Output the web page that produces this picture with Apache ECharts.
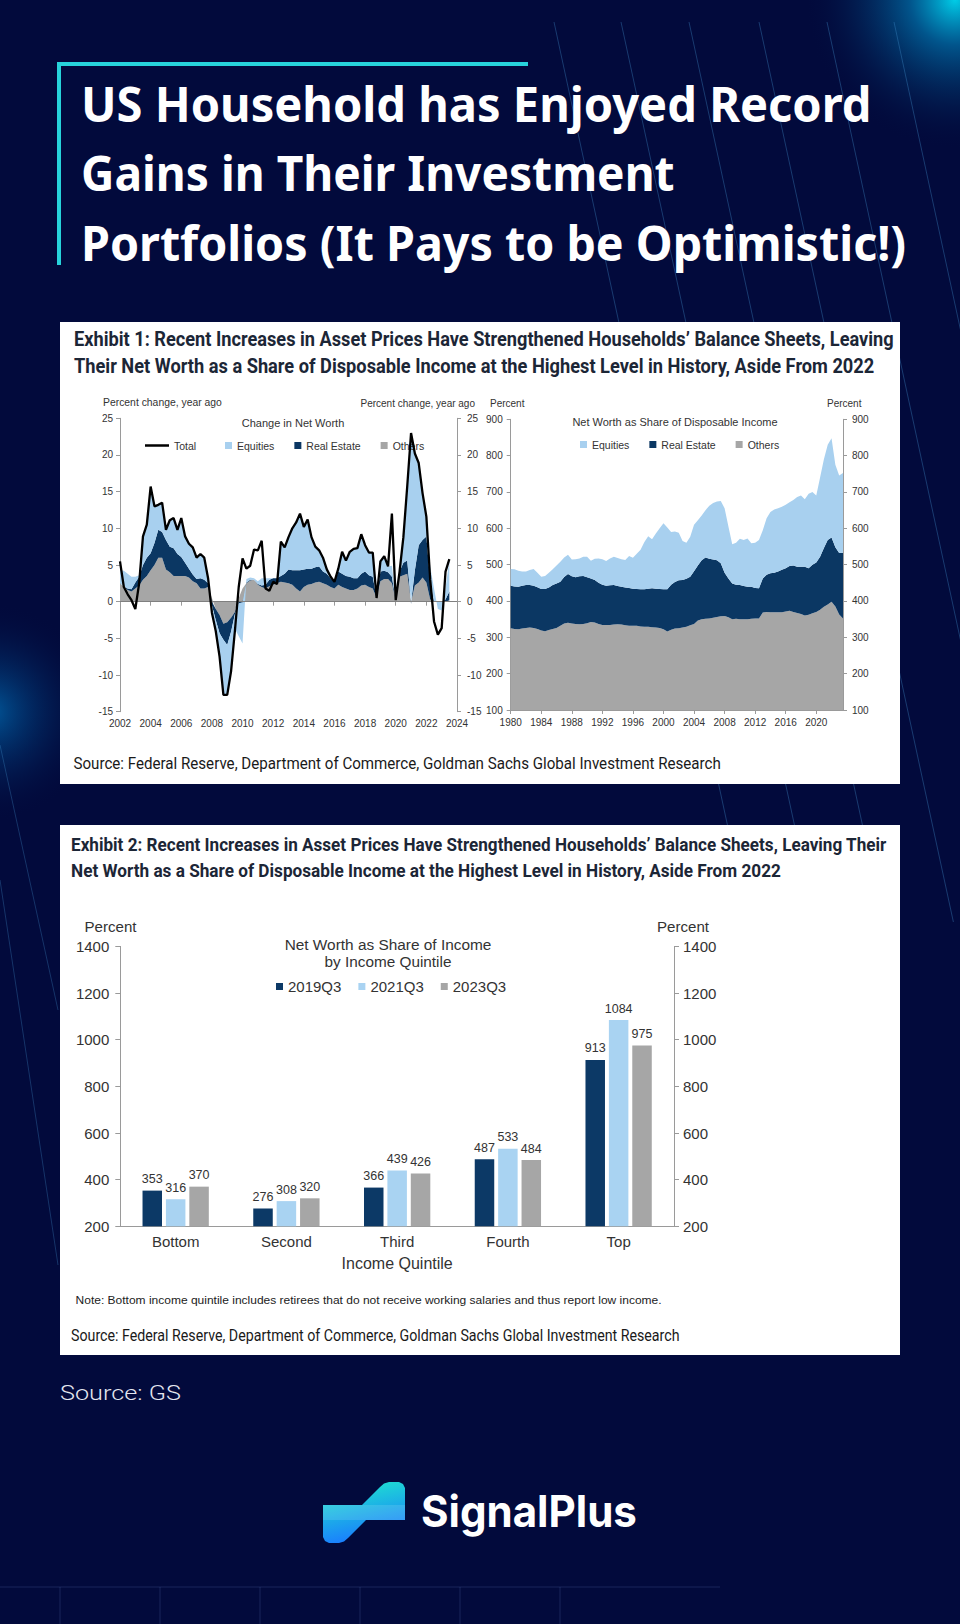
<!DOCTYPE html>
<html><head><meta charset="utf-8">
<script src="https://cdn.jsdelivr.net/npm/echarts@6/dist/echarts.min.js"></script>
<style>html,body{margin:0;padding:0;background:#020a3c;}#c{width:960px;height:1624px;}</style>
</head><body><div id="c"></div>
<script>
// ---------------- DATA ----------------
// Exhibit 1 (left): change in net worth, % y/y, quarterly 2002Q1..2023Q3
const cnwTotal = [5.5,2.0,1.0,0.2, -1.0,2.5,8.9,10.5, 15.7,13.0,13.2,13.5, 9.8,11.1,11.4,9.8, 11.4,8.9,7.9,7.4, 6.0,6.5,6.0,3.2,
  -1.5,-4.0,-7.5,-12.7, -12.7,-9.5,-4.0,2.0, 5.9,4.5,4.9,7.1, 7.0,8.3,1.8,1.5, 2.7,2.4,8.2,7.4, 8.8,10.0,10.8,12.0,
  10.2,11.2,8.8,7.5, 7.0,6.0,4.4,3.4, 2.7,4.5,6.8,5.6, 6.8,7.2,7.3,9.2, 7.7,6.7,6.7,0.5, 5.5,6.2,4.8,12.0,
  0.2,4.1,8.8,15.7, 23.0,20.2,18.9,14.8, 11.6,3.0,-2.7,-4.5, -3.6,4.1,5.8];
const cnwOthers = [2.5,2.0,1.6,1.4, 1.8,2.2,3.0,3.5, 4.3,5.0,6.0,6.0, 4.4,4.0,3.5,3.5, 3.5,3.5,3.3,2.8, 2.5,1.8,1.8,2.0,
  0.5,-1.0,-1.8,-3.0, -2.8,-2.2,-1.4,0.5, 1.8,2.5,2.9,3.0, 2.3,2.0,1.8,2.1, 2.3,2.5,2.7,2.6, 2.5,2.3,1.8,1.4,
  2.0,2.3,2.4,2.6, 2.7,2.5,2.3,2.0, 1.8,2.3,2.0,1.8, 1.6,1.6,1.8,2.2, 2.3,2.0,1.8,0.5, 2.8,3.1,3.1,2.5,
  0.2,3.4,3.6,3.8, 0.0,2.2,2.6,3.3, 2.6,0.3,0.0,0.0, 0.0,0.0,0.2];
const cnwRealEstate = [0.0,0.0,0.2,0.3, 0.8,1.2,2.0,2.5, 2.3,3.0,3.8,3.5, 4.0,3.5,3.8,3.0, 2.6,1.8,1.2,0.9, 0.6,1.4,1.2,0.5,
  -0.5,-1.5,-2.5,-2.2, -3.1,-1.9,-0.3,-0.2, -0.1,0.1,0.1,0.0, 0.1,0.2,0.5,0.9, 0.9,0.7,0.8,1.2, 1.9,2.0,2.5,2.9,
  2.4,2.2,2.1,2.1, 2.1,1.6,1.5,1.2, 0.9,1.8,1.8,1.7, 1.8,1.6,1.4,1.6, 1.8,1.6,1.6,0.0, 1.3,1.1,0.9,0.9,
  0.0,0.7,1.7,1.8, -0.3,2.1,5.1,5.1, 6.3,2.5,0.0,0.0, 0.0,0.3,1.2];
const cnwEquities = [1.8,2.2,2.0,1.7, 0.8,0.2,3.9,4.5, 9.0,5.0,3.4,4.0, 1.4,3.6,4.1,3.3, 5.3,3.6,3.4,3.7, 2.9,3.3,3.0,0.7,
  -1.5,-1.5,-3.2,-7.5, -6.8,-5.4,-2.0,-4.5, -5.6,0.5,0.3,0.2, 0.4,1.0,0.9,0.2, 0.0,0.0,4.7,3.6, 4.4,5.7,6.5,7.7,
  5.8,6.7,4.3,2.8, 2.2,1.9,0.6,0.2, 0.0,0.4,3.0,2.1, 3.4,4.0,4.1,5.4, 3.6,3.1,3.3,0.0, 1.4,2.0,0.8,1.5,
  0.0,0.0,3.5,10.1, 23.0,15.9,11.2,6.4, 2.3,2.0,1.8,-1.0, -1.2,1.5,4.3];

// Exhibit 1 (right): net worth as share of disposable income, %, half-yearly 1980H1..2023H2
const nwOthers = [325,323, 322,324, 326,327, 326,323, 319,317, 320,323, 326,332, 338,340, 338,337, 336,337,
  339,342, 341,337, 334,334, 334,335, 336,335, 333,332, 332,332, 330,329, 329,328, 327,326,
  322,316, 321,324, 325,327, 329,333, 337,346, 350,351, 352,354, 356,358, 359,355, 350,351,
  350,350, 350,351, 352,352, 368,370, 369,369, 369,369, 371,373, 370,367, 364,360, 362,366,
  370,376, 384,390, 398,385, 363,352];
const nwRealEstate = [117,117, 117,118, 118,117, 116,115, 114,116, 117,121, 122,121, 128,134, 130,128, 132,132,
  126,120, 117,113, 111,108, 109,109, 105,104, 104,104, 102,101, 102,103, 105,107, 107,107,
  110,116, 124,128, 132,131, 132,134, 145,152, 162,169, 164,160, 156,146, 119,107, 98,94,
  94,91, 89,88, 84,83, 94,102, 107,109, 112,117, 119,123, 128,127, 130,134, 128,134,
  136,146, 162,178, 177,163, 169,181];
const nwEquities = [46,47, 44,39, 37,41, 46,40, 34,36, 41,43, 50,55, 54,53, 46,50, 49,53,
  57,49, 58,67, 70,68, 74,78, 77,76, 76,88, 85,97, 109,130, 144,135, 152,167,
  182,170, 145,139, 131,107, 99,110, 128,124, 123,130, 146,156, 162,171, 177,143, 108,115,
  127,127, 133,120, 124,133, 133,156, 169,174, 174,173, 175,176, 180,192, 196,186, 205,200,
  184,218, 244,262, 273,227, 213,219];

// Exhibit 2: net worth as share of income by income quintile
const quintiles = ['Bottom','Second','Third','Fourth','Top'];
const nw2019Q3 = [353,276,366,487,913];
const nw2021Q3 = [316,308,439,533,1084];
const nw2023Q3 = [370,320,426,484,975];

// axis categories
const qCats = [];
for (let y = 2002; y <= 2024; y++) for (let q = 1; q <= 4; q++) { if (y === 2024 && q > 1) break; qCats.push(y + 'Q' + q); }
const hCats = [];
for (let y = 1980; y <= 2023; y++) { hCats.push(y + 'H1'); hCats.push(y + 'H2'); }

// ---------------- STYLE ----------------
const C_DARK = '#0b3763', C_LIGHT = '#a8d0ef', C_GRAY = '#a6a6a6';
const B_DARK = '#0c3966', B_LIGHT = '#a9d3f2', B_GRAY = '#a6a6a6';
const ARIAL = "'Liberation Sans', Arial, sans-serif";
const NARROW = "'Liberation Sans Narrow', 'Roboto', sans-serif";
const AX = '#9a9a9a';

const mctx = document.createElement('canvas').getContext('2d');
function txt(s, x, y, size, family, weight, color, targetW, align) {
  let sx = 1;
  if (targetW) { mctx.font = weight + ' ' + size + 'px ' + family; sx = targetW / mctx.measureText(s).width; }
  return { type: 'text', x: x, y: y, scaleX: sx, z: 5, silent: true,
    style: { text: s, fontSize: size, fontFamily: family, fontWeight: weight, fill: color, align: align || 'left', verticalAlign: 'middle' } };
}

const G = [];
G.push({ type: 'rect', silent: true, z: -20, shape: { x: 0, y: 0, width: 960, height: 1624 }, style: { fill: '#020a3c' } });
G.push({ type: 'circle', silent: true, z: -19, shape: { cx: 955, cy: 0, r: 150 },
  style: { fill: { type: 'radial', x: 0.5, y: 0.5, r: 0.5, colorStops: [
    { offset: 0, color: 'rgba(0,215,240,0.95)' }, { offset: 0.3, color: 'rgba(0,160,220,0.5)' }, { offset: 1, color: 'rgba(2,10,60,0)' }] } } });
G.push({ type: 'circle', silent: true, z: -19, shape: { cx: -10, cy: 712, r: 110 },
  style: { fill: { type: 'radial', x: 0.5, y: 0.5, r: 0.5, colorStops: [
    { offset: 0, color: 'rgba(0,150,230,0.55)' }, { offset: 1, color: 'rgba(2,10,60,0)' }] } } });
[554, 621, 689, 759, 827, 894].forEach(function (x0) {
  G.push({ type: 'line', silent: true, z: -18, shape: { x1: x0, y1: 22, x2: x0 + 0.216 * 900, y2: 922 }, style: { stroke: 'rgba(70,150,210,0.35)', lineWidth: 1 } });
});
G.push({ type: 'line', silent: true, z: -18, shape: { x1: 0, y1: 745, x2: 58, y2: 1010 }, style: { stroke: 'rgba(70,150,210,0.3)', lineWidth: 1 } });
G.push({ type: 'line', silent: true, z: -18, shape: { x1: 0, y1: 880, x2: 58, y2: 1265 }, style: { stroke: 'rgba(70,150,210,0.3)', lineWidth: 1 } });
G.push({ type: 'line', silent: true, z: -18, shape: { x1: 0, y1: 1587, x2: 720, y2: 1587 }, style: { stroke: 'rgba(70,90,150,0.35)', lineWidth: 1 } });
[60, 160, 260, 360, 460, 560].forEach(function (x) {
  G.push({ type: 'line', silent: true, z: -18, shape: { x1: x, y1: 1587, x2: x, y2: 1624 }, style: { stroke: 'rgba(70,90,150,0.35)', lineWidth: 1 } });
});
// teal bracket
G.push({ type: 'rect', silent: true, z: -10, shape: { x: 57, y: 62, width: 471, height: 4 }, style: { fill: '#27d3db' } });
G.push({ type: 'rect', silent: true, z: -10, shape: { x: 57, y: 62, width: 4, height: 203 }, style: { fill: '#27d3db' } });
// headline
const HF = "'Noto Sans', 'Open Sans', sans-serif";
G.push(txt('US Household has Enjoyed Record', 81, 103, 48, HF, 'bold', '#ffffff', 791));
G.push(txt('Gains in Their Investment', 81, 173, 48, HF, 'bold', '#ffffff', 594));
G.push(txt('Portfolios (It Pays to be Optimistic!)', 81, 242, 48, HF, 'bold', '#ffffff', 825));
// white panels
G.push({ type: 'rect', silent: true, z: -10, shape: { x: 60, y: 322, width: 840, height: 462 }, style: { fill: '#ffffff' } });
G.push({ type: 'rect', silent: true, z: -10, shape: { x: 60, y: 825, width: 840, height: 530 }, style: { fill: '#ffffff' } });
// exhibit 1 texts
const TC = '#1c2636';
G.push(txt('Exhibit 1: Recent Increases in Asset Prices Have Strengthened Households\u2019 Balance Sheets, Leaving', 74, 339, 20, NARROW, 'bold', TC, 820));
G.push(txt('Their Net Worth as a Share of Disposable Income at the Highest Level in History, Aside From 2022', 74, 366, 20, NARROW, 'bold', TC, 801));
G.push(txt('Source: Federal Reserve, Department of Commerce, Goldman Sachs Global Investment Research', 73.5, 763, 17, NARROW, 'normal', '#1a1a1a', 648));
G.push(txt('Percent change, year ago', 103, 403, 10, ARIAL, 'normal', '#333', 119));
G.push(txt('Percent change, year ago', 475, 403, 10, ARIAL, 'normal', '#333', 0, 'right'));
G.push(txt('Change in Net Worth', 293, 423, 11, ARIAL, 'normal', '#333', 0, 'center'));
G.push(txt('Percent', 490, 403, 10, ARIAL, 'normal', '#333'));
G.push(txt('Percent', 827, 403, 10, ARIAL, 'normal', '#333'));
G.push(txt('Net Worth as Share of Disposable Income', 675, 422, 11, ARIAL, 'normal', '#333', 0, 'center'));
// exhibit 2 texts
G.push(txt('Exhibit 2: Recent Increases in Asset Prices Have Strengthened Households\u2019 Balance Sheets, Leaving Their', 71, 844, 19, NARROW, 'bold', TC, 816));
G.push(txt('Net Worth as a Share of Disposable Income at the Highest Level in History, Aside From 2022', 71, 870, 19, NARROW, 'bold', TC, 710));
G.push(txt('Percent', 84.5, 927, 15, ARIAL, 'normal', '#333', 52));
G.push(txt('Percent', 657, 927, 15, ARIAL, 'normal', '#333', 52));
G.push(txt('Net Worth as Share of Income', 388, 945, 15, ARIAL, 'normal', '#333', 207, 'center'));
G.push(txt('by Income Quintile', 388, 962, 15, ARIAL, 'normal', '#333', 127, 'center'));
G.push(txt('Note: Bottom income quintile includes retirees that do not receive working salaries and thus report low income.', 75.6, 1300, 11, ARIAL, 'normal', '#222', 587));
G.push(txt('Source: Federal Reserve, Department of Commerce, Goldman Sachs Global Investment Research', 71, 1336, 16, NARROW, 'normal', '#1a1a1a', 609));
// footer
G.push(txt('Source: GS', 60, 1393, 20, "'Roboto', sans-serif", '300', '#e4e7f0', 121));
G.push({ type: 'polygon', silent: true, z: 5,
  shape: { points: [[323,1505],[362,1505],[380,1487],[384,1483.5],[389,1482],[399,1482],[403,1484],[405,1488],[405,1520],
    [366,1520],[348,1538],[344,1541.5],[339,1543],[329,1543],[325,1541],[323,1537]] },
  style: { fill: { type: 'linear', x: 0, y: 0, x2: 0.3, y2: 1, colorStops: [{ offset: 0, color: '#1ff0c8' }, { offset: 1, color: '#1a7dff' }] } } });
G.push({ type: 'rect', silent: true, z: 6, shape: { x: 323, y: 1505, width: 82, height: 15 }, style: { fill: 'rgba(255,255,255,0.12)' } });
G.push(txt('SignalPlus', 421, 1511, 44, "'Inter', 'Lato', sans-serif", 'bold', '#ffffff', 216));

// ---------------- CHART ----------------
function yAx(grid, pos, min, max, iv, margin) {
  return { type: 'value', gridIndex: grid, position: pos, min: min, max: max, interval: iv,
    axisLine: { show: true, lineStyle: { color: AX } }, axisTick: { show: true, length: 4, lineStyle: { color: AX } },
    splitLine: { show: false },
    axisLabel: { fontSize: 10, color: '#333', margin: margin, fontFamily: ARIAL, formatter: function (v) { return String(v); } } };
}
const yAxes = [
  yAx(0, 'left', -15, 25, 5, 7), yAx(0, 'right', -15, 25, 5, 10),
  yAx(1, 'left', 100, 900, 100, 8), yAx(1, 'right', 100, 900, 100, 9),
  yAx(2, 'left', 200, 1400, 200, 11), yAx(2, 'right', 200, 1400, 200, 9)
];
yAxes[4].axisLabel.fontSize = 15; yAxes[5].axisLabel.fontSize = 15;
yAxes[4].axisTick.length = 5; yAxes[5].axisTick.length = 5;

const every8 = function (i) { return i % 8 === 0; };
const option = {
  animation: false,
  textStyle: { fontFamily: ARIAL },
  graphic: { elements: G },
  grid: [
    { left: 120, top: 418.3, width: 337, height: 293.4 },
    { left: 510.7, top: 419.3, width: 332.3, height: 290.7 },
    { left: 120.3, top: 946.4, width: 553.7, height: 279.9 }
  ],
  xAxis: [
    { type: 'category', gridIndex: 0, data: qCats, boundaryGap: false,
      axisLine: { lineStyle: { color: AX } }, axisTick: { interval: every8, length: 4, lineStyle: { color: AX } },
      axisLabel: { interval: every8, formatter: function (v) { return v.slice(0, 4); }, fontSize: 10, color: '#333', margin: 7 } },
    { type: 'category', gridIndex: 1, data: hCats, boundaryGap: false,
      axisLine: { lineStyle: { color: AX } }, axisTick: { interval: every8, length: 4, lineStyle: { color: AX } },
      axisLabel: { interval: every8, formatter: function (v) { return v.slice(0, 4); }, fontSize: 10, color: '#333', margin: 7 } },
    { type: 'category', gridIndex: 2, data: quintiles, boundaryGap: true,
      axisLine: { lineStyle: { color: AX } }, axisTick: { length: 5, lineStyle: { color: AX } },
      axisLabel: { fontSize: 15, color: '#333', margin: 8 },
      name: 'Income Quintile', nameLocation: 'middle', nameGap: 29, nameTextStyle: { fontSize: 16, color: '#333' } }
  ],
  yAxis: yAxes,
  legend: [
    { data: [{ name: 'Total', icon: 'rect', itemStyle: { color: '#000' } }], left: 145, top: 440, padding: 0, itemWidth: 24, itemHeight: 2.5,
      textStyle: { fontSize: 10.5, color: '#333' } },
    { data: [{ name: 'Equities', icon: 'rect' }, { name: 'Real Estate', icon: 'rect' }, { name: 'Others', icon: 'rect' }],
      left: 225, top: 440, padding: 0, itemWidth: 7, itemHeight: 7, itemGap: 20, textStyle: { fontSize: 10.5, color: '#333' } },
    { data: [{ name: 'Equities', icon: 'rect' }, { name: 'Real Estate', icon: 'rect' }, { name: 'Others', icon: 'rect' }],
      left: 580, top: 439, padding: 0, itemWidth: 7, itemHeight: 7, itemGap: 20, textStyle: { fontSize: 10.5, color: '#333' } },
    { data: [{ name: '2019Q3', icon: 'rect' }, { name: '2021Q3', icon: 'rect' }, { name: '2023Q3', icon: 'rect' }],
      left: 276, top: 979, padding: 0, itemWidth: 7, itemHeight: 7, itemGap: 17, textStyle: { fontSize: 15, color: '#333' } }
  ],
  series: [
    { name: 'Others', type: 'line', xAxisIndex: 0, yAxisIndex: 0, stack: 'cnw', data: cnwOthers, symbol: 'none',
      lineStyle: { width: 0 }, itemStyle: { color: C_GRAY }, areaStyle: { color: C_GRAY, opacity: 1 } },
    { name: 'Real Estate', type: 'line', xAxisIndex: 0, yAxisIndex: 0, stack: 'cnw', data: cnwRealEstate, symbol: 'none',
      lineStyle: { width: 0 }, itemStyle: { color: C_DARK }, areaStyle: { color: C_DARK, opacity: 1 } },
    { name: 'Equities', type: 'line', xAxisIndex: 0, yAxisIndex: 0, stack: 'cnw', data: cnwEquities, symbol: 'none',
      lineStyle: { width: 0 }, itemStyle: { color: C_LIGHT }, areaStyle: { color: C_LIGHT, opacity: 1 } },
    { name: 'Total', type: 'line', xAxisIndex: 0, yAxisIndex: 0, data: cnwTotal, symbol: 'none', z: 6,
      lineStyle: { color: '#000', width: 2.3 }, itemStyle: { color: '#000' },
      markLine: { silent: true, symbol: 'none', label: { show: false }, lineStyle: { color: '#7f7f7f', width: 1, type: 'solid' }, data: [{ yAxis: 0 }] } },
    { name: 'Others', type: 'line', xAxisIndex: 1, yAxisIndex: 2, stack: 'nws', data: nwOthers, symbol: 'none',
      lineStyle: { width: 0 }, itemStyle: { color: C_GRAY }, areaStyle: { color: C_GRAY, opacity: 1, origin: 'start' } },
    { name: 'Real Estate', type: 'line', xAxisIndex: 1, yAxisIndex: 2, stack: 'nws', data: nwRealEstate, symbol: 'none',
      lineStyle: { width: 0 }, itemStyle: { color: C_DARK }, areaStyle: { color: C_DARK, opacity: 1 } },
    { name: 'Equities', type: 'line', xAxisIndex: 1, yAxisIndex: 2, stack: 'nws', data: nwEquities, symbol: 'none',
      lineStyle: { width: 0 }, itemStyle: { color: C_LIGHT }, areaStyle: { color: C_LIGHT, opacity: 1 } },
    { name: '2019Q3', type: 'bar', xAxisIndex: 2, yAxisIndex: 4, data: nw2019Q3, barWidth: 19.5, barGap: '20%',
      itemStyle: { color: B_DARK }, label: { show: true, position: 'top', distance: 5, fontSize: 12.5, color: '#333' } },
    { name: '2021Q3', type: 'bar', xAxisIndex: 2, yAxisIndex: 4, data: nw2021Q3, barWidth: 19.5, barGap: '20%',
      itemStyle: { color: B_LIGHT }, label: { show: true, position: 'top', distance: 5, fontSize: 12.5, color: '#333' } },
    { name: '2023Q3', type: 'bar', xAxisIndex: 2, yAxisIndex: 4, data: nw2023Q3, barWidth: 19.5, barGap: '20%',
      itemStyle: { color: B_GRAY }, label: { show: true, position: 'top', distance: 5, fontSize: 12.5, color: '#333' } }
  ]
};
const chart = echarts.init(document.getElementById('c'), null, { renderer: 'svg', width: 960, height: 1624 });
chart.setOption(option);
</script>
</body></html>
